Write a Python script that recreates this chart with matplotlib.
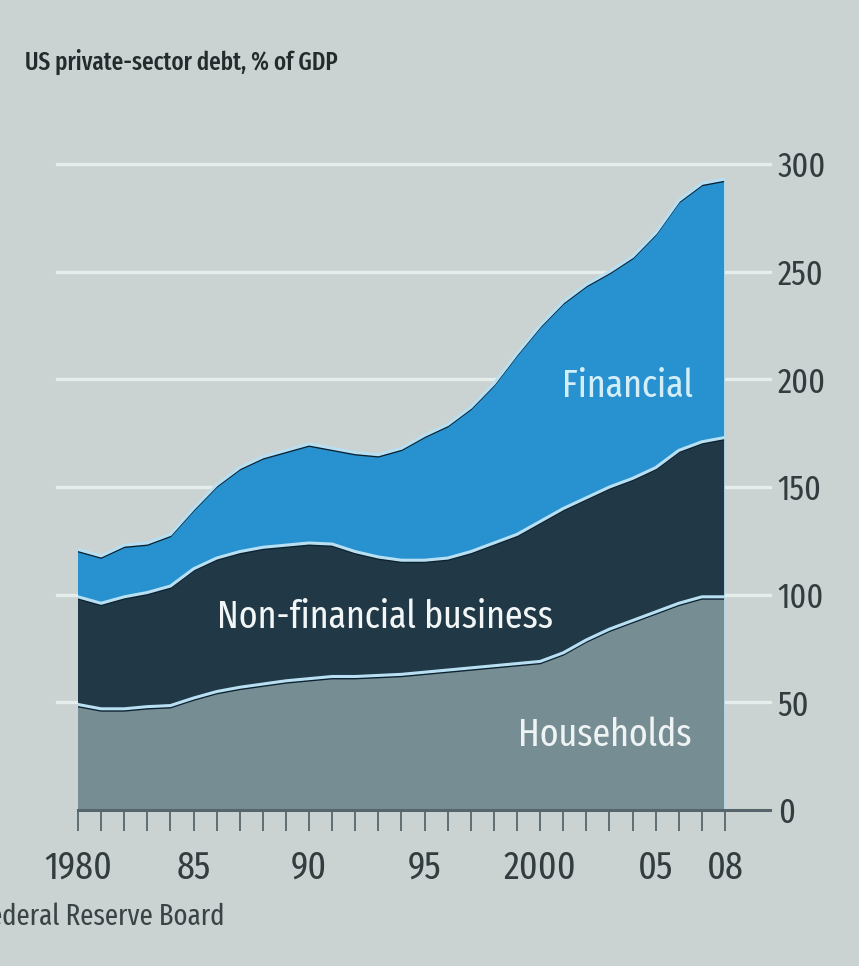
import matplotlib
matplotlib.use("Agg")
import matplotlib.pyplot as plt
import numpy as np

# US private-sector debt by sector, % of GDP
years = list(range(1980, 2009))
households = [49, 47, 47, 48, 48.5, 52, 55, 57, 58.5, 60, 61, 62, 62, 62.5, 63,
              64, 65, 66, 67, 68, 69, 73, 79, 84, 88, 92, 96, 99, 99]
non_financial_business = [50, 49, 52, 53, 55.5, 60, 62, 63, 63.5, 63, 63, 61.5, 58, 55, 53,
                          52, 52, 54, 57, 60, 65, 67, 66, 66, 66, 67, 71, 72, 74]
financial = [22, 22, 24, 23, 24, 28, 34, 39, 42, 44, 46, 44.5, 46, 47.5, 52,
             58, 62, 67, 74, 84, 91, 96, 99, 100, 103, 109, 116, 120, 120]

y_ticks = [0, 50, 100, 150, 200, 250, 300]
x_ticks = [1980, 1985, 1990, 1995, 2000, 2005, 2008]
x_labels = ["1980", "85", "90", "95", "2000", "05", "08"]

title = "US private-sector debt, % of GDP"
source = "Source: Federal Reserve Board"

BG = "#cad3d1"
GRID = "#e6eeec"
C_HOUSE = "#768d93"
C_NONFIN = "#213946"
C_FIN = "#2792cf"
EDGE = "#b8e0f2"
INK = "#333d3f"

FONT = ["Fira Sans Extra Condensed", "Barlow Condensed", "Roboto Condensed",
        "Archivo Narrow", "Asap Condensed", "Liberation Sans", "DejaVu Sans"]
plt.rcParams["font.family"] = FONT

fig = plt.figure(figsize=(8.59, 9.66), dpi=100, facecolor=BG)
ax = fig.add_axes([78 / 859, 1 - 810 / 966, (725 - 78) / 859, (810 - 164) / 966])
ax.set_facecolor(BG)
ax.set_xlim(1980, 2008)
ax.set_ylim(0, 300)
for s in ax.spines.values():
    s.set_visible(False)

# horizontal gridlines running past the plot edges
ytr = ax.get_yaxis_transform()
for v in y_ticks[1:]:
    ax.plot([-0.033, 1.07], [v, v], transform=ytr, color=GRID, lw=2.4,
            clip_on=False, zorder=0)

# stacked areas
ax.stackplot(years, households, non_financial_business, financial,
             colors=[C_HOUSE, C_NONFIN, C_FIN], zorder=2, lw=0)

tops = np.cumsum([households, non_financial_business, financial], axis=0)
for t in tops:
    ax.plot(years, t - 0.9, color="#0d2230", lw=1.4, zorder=3, solid_joinstyle="round")
    ax.plot(years, t, color=EDGE, lw=2.2, zorder=4, solid_joinstyle="round")
ax.plot([years[-1], years[-1]], [0, tops[-1][-1]], color=EDGE, lw=2.0, zorder=4)

# baseline
ax.plot([0, 1.07], [0, 0], transform=ytr, color="#56666c", lw=2.2,
        clip_on=False, zorder=5)

# axes ticks
ax.yaxis.tick_right()
ax.set_yticks(y_ticks)
ax.set_yticklabels([str(v) for v in y_ticks])
ax.tick_params(axis="y", length=0, pad=38, labelsize=25, labelcolor=INK)

ax.set_xticks(x_ticks)
ax.set_xticklabels(x_labels)
ax.set_xticks(years, minor=True)
ax.tick_params(axis="x", which="both", direction="out", length=15, width=1.3,
               color="#56666c", pad=13, labelsize=28, labelcolor=INK)

# series labels
ax.text(2003.8, 197, "Financial", color="#d4eef8", fontsize=28,
        ha="center", va="center", zorder=6)
ax.text(1993.3, 89.5, "Non-financial business", color="#f2f6f6", fontsize=28,
        ha="center", va="center", zorder=6)
ax.text(2002.8, 35, "Households", color="#eef3f4", fontsize=28,
        ha="center", va="center", zorder=6)

fig.text(25 / 859, 1 - 62 / 966, title, fontsize=18, fontweight="medium",
         color="#232b2d", ha="left", va="center")
fig.text(225 / 859, 1 - 917 / 966, source, fontsize=21, color="#3a4446",
         ha="right", va="center")

fig.savefig("out.png", dpi=100, facecolor=BG)
